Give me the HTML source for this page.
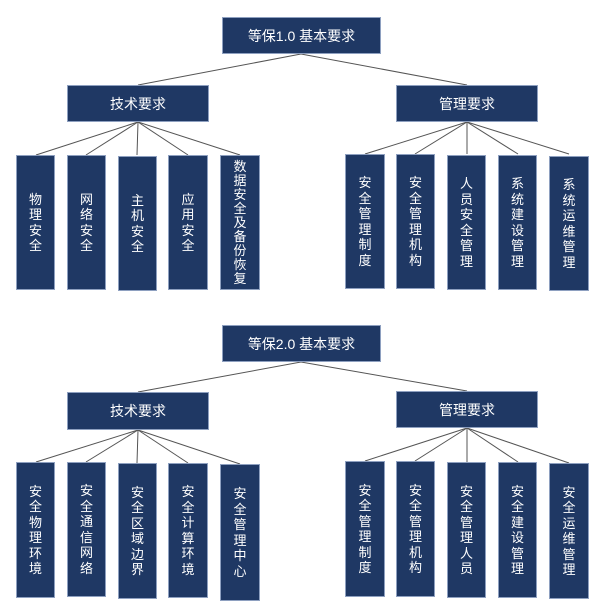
<!DOCTYPE html>
<html><head><meta charset="utf-8"><style>
body{margin:0;width:603px;height:611px;background:#fff;position:relative;overflow:hidden;font-family:"Liberation Sans","Noto Sans CJK SC",sans-serif}
.b{position:absolute;background:#1f3864;border:1px solid #8ea0c0;box-sizing:border-box;color:#fff;display:flex;align-items:center;justify-content:center;font-size:14px}
.v span{display:block;width:15px;font-size:13px;line-height:15.5px;text-align:center;word-break:break-all}
svg{position:absolute;left:0;top:0}
</style></head><body>
<svg width="603" height="611"><g stroke="#555" stroke-width="1">
<line x1="301" y1="54" x2="138" y2="85"/><line x1="301" y1="54" x2="467" y2="85"/>
<line x1="138" y1="122" x2="36" y2="155"/><line x1="138" y1="122" x2="86" y2="155"/><line x1="138" y1="122" x2="137" y2="155"/><line x1="138" y1="122" x2="188" y2="155"/><line x1="138" y1="122" x2="240" y2="155"/>
<line x1="467" y1="122" x2="365" y2="154"/><line x1="467" y1="122" x2="415" y2="154"/><line x1="467" y1="122" x2="467" y2="154"/><line x1="467" y1="122" x2="518" y2="154"/><line x1="467" y1="122" x2="569" y2="154"/>
<line x1="301" y1="362" x2="138" y2="392"/><line x1="301" y1="362" x2="467" y2="391"/>
<line x1="138" y1="430" x2="36" y2="462"/><line x1="138" y1="430" x2="86" y2="462"/><line x1="138" y1="430" x2="137" y2="463"/><line x1="138" y1="430" x2="188" y2="463"/><line x1="138" y1="430" x2="240" y2="464"/>
<line x1="467" y1="428" x2="365" y2="461"/><line x1="467" y1="428" x2="415" y2="461"/><line x1="467" y1="428" x2="467" y2="462"/><line x1="467" y1="428" x2="518" y2="462"/><line x1="467" y1="428" x2="569" y2="463"/>
</g></svg>
<div class="b" style="left:222px;top:17px;width:159px;height:37px">等保1.0 基本要求</div>
<div class="b" style="left:67px;top:85px;width:142px;height:37px">技术要求</div>
<div class="b" style="left:396px;top:85px;width:142px;height:37px">管理要求</div>
<div class="b v" style="left:16px;top:155px;width:39px;height:135px"><span>物理安全</span></div>
<div class="b v" style="left:67px;top:155px;width:39px;height:135px"><span>网络安全</span></div>
<div class="b v" style="left:118px;top:156px;width:39px;height:135px"><span>主机安全</span></div>
<div class="b v" style="left:168px;top:155px;width:40px;height:135px"><span>应用安全</span></div>
<div class="b v" style="left:220px;top:155px;width:40px;height:135px"><span style="line-height:14px">数据安全及备份恢复</span></div>
<div class="b v" style="left:345px;top:154px;width:40px;height:135px"><span>安全管理制度</span></div>
<div class="b v" style="left:396px;top:154px;width:39px;height:135px"><span>安全管理机构</span></div>
<div class="b v" style="left:447px;top:155px;width:39px;height:135px"><span>人员安全管理</span></div>
<div class="b v" style="left:498px;top:155px;width:39px;height:135px"><span>系统建设管理</span></div>
<div class="b v" style="left:549px;top:156px;width:40px;height:135px"><span>系统运维管理</span></div>

<div class="b" style="left:222px;top:325px;width:159px;height:37px">等保2.0 基本要求</div>
<div class="b" style="left:67px;top:392px;width:142px;height:38px">技术要求</div>
<div class="b" style="left:396px;top:391px;width:142px;height:37px">管理要求</div>
<div class="b v" style="left:16px;top:462px;width:39px;height:136px"><span>安全物理环境</span></div>
<div class="b v" style="left:67px;top:462px;width:39px;height:135px"><span>安全通信网络</span></div>
<div class="b v" style="left:118px;top:463px;width:39px;height:136px"><span>安全区域边界</span></div>
<div class="b v" style="left:168px;top:463px;width:40px;height:135px"><span>安全计算环境</span></div>
<div class="b v" style="left:220px;top:464px;width:40px;height:137px"><span>安全管理中心</span></div>
<div class="b v" style="left:345px;top:461px;width:40px;height:136px"><span>安全管理制度</span></div>
<div class="b v" style="left:396px;top:461px;width:39px;height:136px"><span>安全管理机构</span></div>
<div class="b v" style="left:447px;top:462px;width:39px;height:136px"><span>安全管理人员</span></div>
<div class="b v" style="left:498px;top:462px;width:39px;height:136px"><span>安全建设管理</span></div>
<div class="b v" style="left:549px;top:463px;width:40px;height:136px"><span>安全运维管理</span></div>
</body></html>
